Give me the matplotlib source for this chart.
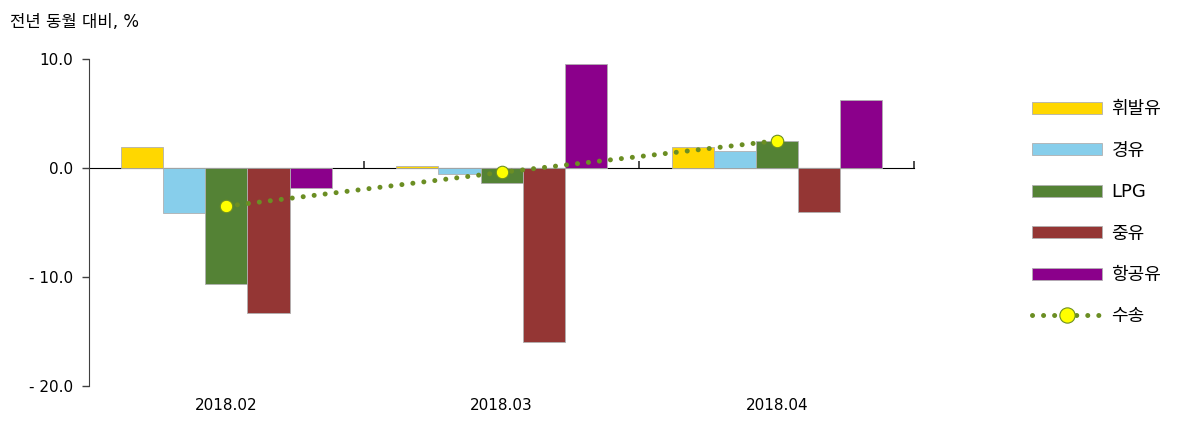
import numpy as np
import matplotlib.pyplot as plt

plt.rcParams['font.family'] = ['DejaVu Sans', 'Noto Sans CJK KR']

categories = ["2018.02", "2018.03", "2018.04"]
series_names = ["휘발유", "경유", "LPG", "중유", "항공유"]
gasoline = [1.9, 0.2, 1.9]
diesel = [-4.1, -0.55, 1.55]
lpg = [-10.6, -1.4, 2.5]
heavy_oil = [-13.3, -16.0, -4.0]
jet_fuel = [-1.8, 9.5, 6.2]
transport = [-3.5, -0.4, 2.5]
line_name = "수송"
y_ticks = [10, 0, -10, -20]
y_tick_labels = ["10.0", "0.0", "- 10.0", "- 20.0"]

colors = ["#FFD700", "#87CEEB", "#548235", "#943634", "#8B008B"]
line_color = "#6B8E23"


def main():
    fig = plt.figure(figsize=(12, 4.26), dpi=100)
    ax = fig.add_axes([0.074, 0.094, 0.688, 0.7675])

    x = np.arange(len(categories))
    width = 0.153
    values = [gasoline, diesel, lpg, heavy_oil, jet_fuel]
    handles = []
    for i, (name, vals) in enumerate(zip(series_names, values)):
        b = ax.bar(x + (i - 2) * width, vals, width, color=colors[i],
                   edgecolor="#b0b0b0", linewidth=0.6, label=name, zorder=2)
        handles.append(b)

    line, = ax.plot(x, transport, linestyle=(0, (0.01, 2.2)),
                    dash_capstyle="round", linewidth=3.6, color=line_color,
                    marker="o", markersize=9, markerfacecolor="#FFFF00",
                    markeredgecolor=line_color, markeredgewidth=0.8,
                    label=line_name, zorder=4)
    handles.append(line)

    ax.set_xlim(-0.5, len(categories) - 0.5)
    ax.set_ylim(-20, 10)
    ax.set_yticks(y_ticks)
    ax.set_yticklabels(y_tick_labels, fontsize=11)
    ax.tick_params(axis="y", length=5, width=1, color="#404040", pad=6)

    ax.set_xticks(x)
    ax.set_xticklabels(categories, fontsize=11)
    ax.tick_params(axis="x", length=0, pad=9)

    for side in ["top", "right", "bottom"]:
        ax.spines[side].set_visible(False)
    ax.spines["left"].set_color("#404040")

    # zero line with category-boundary ticks
    sec = ax.secondary_xaxis(2 / 3)
    sec.set_xticks(np.arange(len(categories)) + 0.5)
    sec.set_xticklabels([])
    sec.tick_params(length=5, width=1.2, color="#303030", direction="out")
    sec.spines["bottom"].set_color("#505050")
    sec.spines["bottom"].set_linewidth(1.5)

    fig.text(0.008, 0.948, "전년 동월 대비, %", fontsize=12, va="center")

    leg = ax.legend(handles=handles, loc="upper left",
                    bbox_to_anchor=(0.86, 0.765),
                    bbox_transform=fig.transFigure, frameon=False,
                    fontsize=13, handlelength=3.9, handleheight=0.65,
                    labelspacing=1.3, handletextpad=0.5, borderaxespad=0,
                    borderpad=0)
    leg.legend_handles[-1].set_markersize(11)

    fig.savefig("out.png", dpi=100)


if __name__ == "__main__":
    main()
